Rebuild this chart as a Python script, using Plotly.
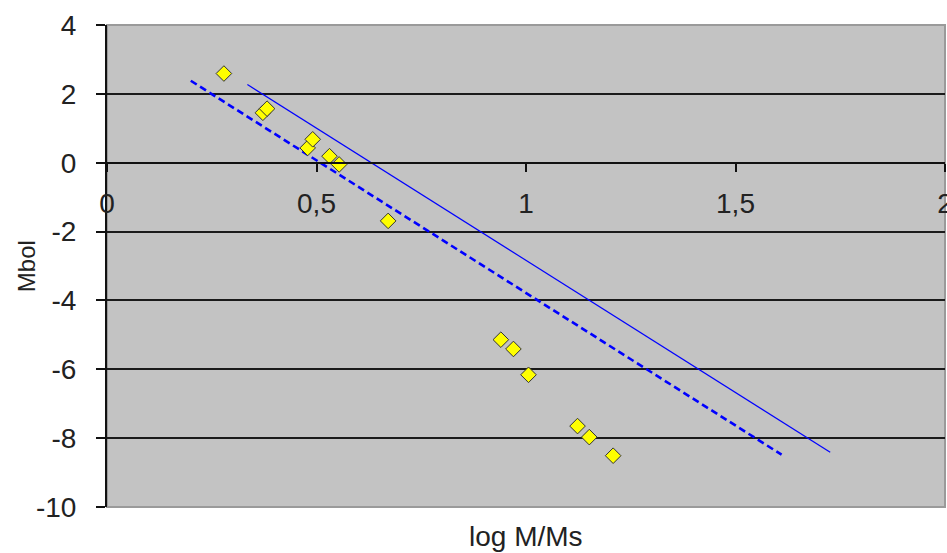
import plotly.graph_objects as go

# observed stars
log_m = [0.279, 0.372, 0.382, 0.479, 0.491, 0.531, 0.554, 0.671,
         0.940, 0.970, 1.006, 1.123, 1.151, 1.208]
m_bol = [2.59, 1.45, 1.57, 0.43, 0.68, 0.19, -0.05, -1.69,
         -5.14, -5.41, -6.16, -7.65, -7.97, -8.51]

# relation lines (end points)
solid_x = [0.335, 1.726]
solid_y = [2.27, -8.41]
dash_x = [0.200, 1.610]
dash_y = [2.38, -8.48]

x_ticks = [0, 0.5, 1, 1.5, 2]
x_tick_text = ["0", "0,5", "1", "1,5", "2"]
y_ticks = [-10, -8, -6, -4, -2, 0, 2, 4]
y_tick_text = ["-10", "-8", "-6", "-4", "-2", "0", "2", "4"]

font_main = "Liberation Sans, Arial, sans-serif"

fig = go.Figure()
fig.add_trace(go.Scatter(x=solid_x, y=solid_y, mode="lines",
                         line=dict(color="#0000FF", width=1.2),
                         showlegend=False, hoverinfo="skip"))
fig.add_trace(go.Scatter(x=dash_x, y=dash_y, mode="lines",
                         line=dict(color="#0000FF", width=2.6, dash="7px,4px"),
                         showlegend=False, hoverinfo="skip"))
fig.add_trace(go.Scatter(x=log_m, y=m_bol, mode="markers",
                         marker=dict(symbol="diamond", size=12, color="#FFFF00",
                                     line=dict(color="#333333", width=1)),
                         showlegend=False))

y_min, y_max = -10, 4
fig.update_layout(
    width=947, height=553,
    margin=dict(l=107, r=2, t=25, b=46, autoexpand=False),
    paper_bgcolor="white",
    plot_bgcolor="#C3C3C3",
    font=dict(family=font_main, size=28, color="#222222"),
    xaxis=dict(range=[0, 2], tickvals=x_ticks, ticktext=x_tick_text,
               showgrid=False, zeroline=False, automargin=False,
               showline=True, linecolor="#111111", linewidth=2,
               ticks="outside", ticklen=8, tickwidth=2, tickcolor="#111111",
               anchor="free", position=(0 - y_min) / (y_max - y_min),
               ticklabeloverflow="allow", ticklabelstandoff=8,
               tickfont=dict(size=28, color="#222222")),
    yaxis=dict(range=[y_min, y_max], tickvals=y_ticks, ticktext=y_tick_text,
               showgrid=True, gridcolor="#1A1A1A", gridwidth=2,
               zeroline=False, automargin=False,
               showline=True, linecolor="#111111", linewidth=2,
               ticks="outside", ticklen=9, tickwidth=2, tickcolor="#111111",
               ticklabelstandoff=14,
               tickfont=dict(size=28, color="#222222")),
    shapes=[dict(type="rect", xref="paper", yref="paper", x0=0, x1=1, y0=0, y1=1,
                 line=dict(color="#9A9A9A", width=2), layer="below")],
    annotations=[
        dict(text="log M/Ms", xref="paper", yref="paper", x=0.5, y=-0.025,
             xanchor="center", yanchor="top", showarrow=False,
             font=dict(size=28, color="#222222")),
        dict(text="Mbol", xref="paper", yref="paper", x=-0.078, y=0.5,
             xanchor="right", yanchor="middle", showarrow=False, textangle=-90,
             font=dict(size=24, color="#222222")),
    ],
)

fig.write_html("out.html")
